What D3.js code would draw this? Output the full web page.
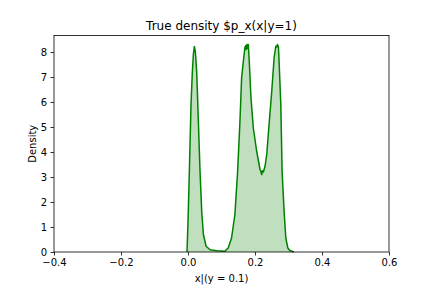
<!DOCTYPE html>
<html><head><meta charset="utf-8">
<script src="https://cdn.jsdelivr.net/npm/d3@7"></script>
<style>body{margin:0;background:#fff}text{font-family:"DejaVu Sans",sans-serif;fill:#000}</style>
</head><body><svg id="c" width="432" height="288"></svg>
<script>
const xs = [-0.003,0.000,0.004,0.009,0.013,0.016,0.019,0.022,0.026,0.031,0.036,0.041,0.046,0.054,0.066,0.086,0.100,0.110,0.120,0.130,0.140,0.148,0.155,0.160,0.165,0.170,0.172,0.174,0.176,0.178,0.180,0.183,0.188,0.195,0.205,0.215,0.218,0.220,0.222,0.225,0.230,0.235,0.242,0.250,0.257,0.262,0.265,0.267,0.270,0.272,0.277,0.281,0.287,0.292,0.298,0.304,0.310,0.316];
const ys = [0,1.2,3.2,5.9,7.2,7.9,8.22,8.0,7.2,5.2,3.2,1.6,0.7,0.23,0.09,0.05,0.04,0.03,0.16,0.56,1.5,3.2,5.2,6.96,7.6,8.2,8.25,8.1,8.3,8.15,8.3,7.6,6.16,4.96,4.03,3.3,3.2,3.1,3.25,3.2,3.43,3.9,5.1,6.43,7.76,8.23,8.2,8.3,8.2,7.6,5.9,3.2,1.6,0.56,0.16,0.06,0.03,0];
const xTicks = [-0.4,-0.2,0.0,0.2,0.4,0.6];
const yTicks = [0,1,2,3,4,5,6,7,8];
const data = xs.map((x,i)=>({x, y: ys[i]}));

const svg = d3.select("#c");
const L=54, R=389, T=35.5, B=252;
const x = d3.scaleLinear().domain([-0.4,0.6]).range([L,R]);
const y = d3.scaleLinear().domain([0,8.66]).range([B,T]);

svg.append("path").datum(data)
  .attr("d", d3.area().x(d=>x(d.x)).y0(y(0)).y1(d=>y(d.y)))
  .attr("fill","green").attr("fill-opacity",0.25);
svg.append("path").datum(data)
  .attr("d", d3.line().x(d=>x(d.x)).y(d=>y(d.y)))
  .attr("fill","none").attr("stroke","green").attr("stroke-width",1.5).attr("stroke-linejoin","round");

const fmt = d => d3.format(".1f")(d).replace("-","\u2212");
const gx = svg.append("g").attr("transform",`translate(0,${B})`)
  .call(d3.axisBottom(x).tickValues(xTicks).tickFormat(fmt).tickSize(3.5).tickPadding(3.5));
const gy = svg.append("g").attr("transform",`translate(${L},0)`)
  .call(d3.axisLeft(y).tickValues(yTicks).tickFormat(d3.format("d")).tickSize(3.5).tickPadding(3.5));
[gx,gy].forEach(g=>{
  g.select(".domain").remove();
  g.selectAll("text").attr("font-size",10).attr("font-family","DejaVu Sans").attr("fill","#000");
  g.selectAll("line").attr("stroke","#000").attr("stroke-width",0.8);
});
svg.append("rect").attr("x",L).attr("y",T).attr("width",R-L).attr("height",B-T)
  .attr("fill","none").attr("stroke","#000").attr("stroke-width",0.8);

svg.append("text").attr("x",(L+R)/2).attr("y",29.5).attr("text-anchor","middle")
  .attr("font-size",12).text("True density $p_x(x|y=1)");
svg.append("text").attr("x",(L+R)/2).attr("y",282).attr("text-anchor","middle")
  .attr("font-size",10).text("x|(y = 0.1)");
svg.append("text").attr("transform",`translate(35.5,${(T+B)/2}) rotate(-90)`).attr("text-anchor","middle")
  .attr("font-size",10).text("Density");
</script></body></html>
